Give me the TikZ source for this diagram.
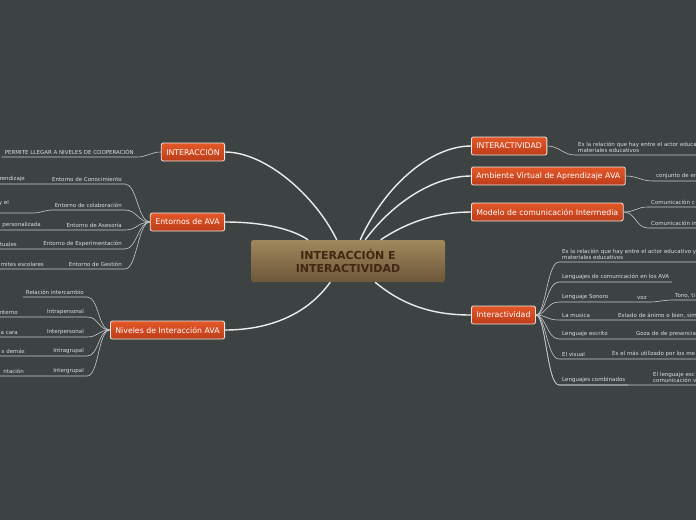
\documentclass[tikz,border=0pt]{standalone}
\usepackage{fontspec}
\setmainfont{DejaVu Sans}
\definecolor{mapbg}{RGB}{61,66,67}
\definecolor{rootTop}{RGB}{160,135,92}
\definecolor{rootBot}{RGB}{108,88,58}
\definecolor{rootText}{RGB}{68,38,20}
\definecolor{topicTop}{RGB}{228,88,40}
\definecolor{topicBot}{RGB}{188,60,26}
\definecolor{topicEdge}{RGB}{238,228,222}
\definecolor{leafText}{RGB}{222,222,222}
\definecolor{branchGray}{RGB}{236,236,236}
\definecolor{twigGray}{RGB}{200,202,202}
\begin{document}
\begin{tikzpicture}[x=1pt,y=-1pt,
  root/.style={rectangle,rounded corners=2.5pt,minimum width=194pt,minimum height=42pt,top color=rootTop,bottom color=rootBot,draw=none,text=rootText,font=\bfseries\fontsize{11}{13}\selectfont,align=center},
  topic/.style={rectangle,rounded corners=2pt,draw=topicEdge,line width=0.8pt,top color=topicTop,bottom color=topicBot,text=white,font=\fontsize{7.8}{9.4}\selectfont,minimum height=18pt,inner xsep=5pt},
  leaf/.style={font=\fontsize{5.5}{6.4}\selectfont,text=leafText,inner xsep=3pt,inner ysep=2pt},
  leafl/.style={leaf,anchor=south east,align=right},
  leafr/.style={leaf,anchor=south west,align=left},
  cut/.style={text width=160pt},
  branch/.style={draw=branchGray,line width=1.4pt},
  twig/.style={draw=twigGray,line width=0.6pt}]
\path[use as bounding box] (0,0) rectangle (696,520);
\path[fill=mapbg] (0,0) rectangle (696,520);
\node[root] (root) at (348,261) {INTERACCIÓN E\\INTERACTIVIDAD};
\node[topic,anchor=east] (interaccion) at (225,152) {INTERACCIÓN};
\node[topic,anchor=east] (entornos) at (225,222) {Entornos de AVA};
\node[topic,anchor=east] (niveles) at (225,330) {Niveles de Interacción AVA};
\node[topic,anchor=west] (interactividad) at (471,146) {INTERACTIVIDAD};
\node[topic,anchor=west] (ambiente) at (471,176) {Ambiente Virtual de Aprendizaje AVA};
\node[topic,anchor=west] (modelo) at (471,212) {Modelo de comunicación Intermedia};
\node[topic,anchor=west] (interact) at (471,315) {Interactividad};
\node[leafl] (cooperacion) at (137,157) {PERMITE LLEGAR A NIVELES DE COOPERACIÓN};
\node[leafl] (conocimiento) at (125,184) {Entorno de Conocimiento};
\node[leafl] (colaboracion) at (125,210) {Entorno de colaboración};
\node[leafl] (asesoria) at (125,230) {Entorno de Asesoría};
\node[leafl] (experimentacion) at (125,249) {Entorno de Experimentación};
\node[leafl] (gestion) at (125,269) {Entorno de Gestión};
\node[leafl] (aprendizaje) at (28,184) {rendizaje};
\node[leafl] (yel) at (34,213) {y el\hspace*{22pt}\\\mbox{}};
\node[leafl] (personalizada) at (44,230) {personalizada};
\node[leafl] (virtuales) at (20,249) {tuales};
\node[leafl] (escolares) at (47,269) {mites escolares};
\node[leafl] (intercambio) at (87,297) {Relación intercambio};
\node[leafl] (intrapersonal) at (87,317) {Intrapersonal};
\node[leafl] (interpersonal) at (87,337) {Interpersonal};
\node[leafl] (intragrupal) at (87,356) {Intragrupal};
\node[leafl] (intergrupal) at (87,376) {Intergrupal};
\node[leafl] (interno) at (21,317) {nterno};
\node[leafl] (acara) at (21,337) {a cara};
\node[leafl] (demas) at (28,356) {s demás};
\node[leafl] (orientacion) at (27,376) {ntación};
\node[leafr,cut] (actor) at (575,155) {Es la relación que hay entre el actor educativo y los\\materiales educativos};
\node[leafr,cut] (conjunto) at (653,181) {conjunto de en};
\node[leafr,cut] (comc) at (648,207) {Comunicación c};
\node[leafr,cut] (comi) at (648,228) {Comunicación in};
\node[leafr,cut] (iactor) at (559,262) {Es la relación que hay entre el actor educativo y los\\materiales educativos};
\node[leafr] (ilenguajes) at (559,282) {Lenguajes de comunicación en los AVA};
\node[leafr] (isonoro) at (559,302) {Lenguaje Sonoro};
\node[leafr] (ivoz) at (634,302) {voz};
\node[leafr,cut] (itono) at (672,300) {Tono, ti};
\node[leafr] (imusica) at (559,320) {La musica};
\node[leafr,cut] (iestado) at (615,320) {Estado de ánimo o bien, sim};
\node[leafr] (iescrito) at (559,339) {Lenguaje escrito};
\node[leafr,cut] (igoza) at (633,339) {Goza de de presencia};
\node[leafr] (ivisual) at (559,359) {El visual};
\node[leafr,cut] (iutilizado) at (609,359) {Es el más utilizado por los me};
\node[leafr] (icombinados) at (559,385) {Lenguajes combinados};
\node[leafr,cut] (iesc) at (650,385) {El lenguaje esc\\comunicación v};
\draw[branch] (root.118) .. controls +(-22,-45) and +(40,0) .. (interaccion.east);
\draw[branch] (root.152) .. controls +(-18,-12) and +(35,0) .. (entornos.east);
\draw[branch] (root.230) .. controls +(-25,35) and +(40,0) .. (niveles.east);
\draw[branch] (root.60) .. controls +(25,-55) and +(-40,0) .. (interactividad.west);
\draw[branch] (root.51) .. controls +(30,-40) and +(-35,0) .. (ambiente.west);
\draw[branch] (root.33) .. controls +(30,-20) and +(-30,0) .. (modelo.west);
\draw[branch] (root.-38) .. controls +(30,25) and +(-35,0) .. (interact.west);
\draw[twig] (interaccion.west) .. controls +(-10,0) and +(10,0) .. (cooperacion.south east) -- (cooperacion.south west);
\foreach \leafname/\childname in {conocimiento/aprendizaje,asesoria/personalizada,experimentacion/virtuales,gestion/escolares}
  \draw[twig] (entornos.west) .. controls +(-12,0) and +(12,0) .. (\leafname.south east) -- (\leafname.south west) -- (\childname.south east) -- (\childname.south west);
\draw[twig] (entornos.west) .. controls +(-12,0) and +(12,0) .. (colaboracion.south east) -- (colaboracion.south west) .. controls +(-5,0) and +(5,0) .. (yel.south east) -- (yel.south west);
\draw[twig] (niveles.west) .. controls +(-12,0) and +(12,0) .. (intercambio.south east) -- (intercambio.south west);
\foreach \leafname/\childname in {intrapersonal/interno,interpersonal/acara,intragrupal/demas,intergrupal/orientacion}
  \draw[twig] (niveles.west) .. controls +(-12,0) and +(12,0) .. (\leafname.south east) -- (\leafname.south west) -- (\childname.south east) -- (\childname.south west);
\draw[twig] (interactividad.east) .. controls +(12,0) and +(-12,0) .. (actor.south west) -- (actor.south east);
\draw[twig] (ambiente.east) .. controls +(12,0) and +(-12,0) .. (conjunto.south west) -- (conjunto.south east);
\draw[twig] (modelo.east) .. controls +(12,0) and +(-12,0) .. (comc.south west) -- (comc.south east);
\draw[twig] (modelo.east) .. controls +(12,0) and +(-12,0) .. (comi.south west) -- (comi.south east);
\foreach \leafname in {iactor,ilenguajes,icombinados}
  \draw[twig] (interact.east) .. controls +(10,0) and +(-12,0) .. (\leafname.south west) -- (\leafname.south east);
\draw[twig] (interact.east) .. controls +(10,0) and +(-12,0) .. (isonoro.south west) -- (isonoro.south east) -- (ivoz.south west) -- (ivoz.south east) .. controls +(8,0) and +(-8,0) .. (itono.south west) -- (itono.south east);
\foreach \leafname/\childname in {imusica/iestado,iescrito/igoza,ivisual/iutilizado,icombinados/iesc}
  \draw[twig] (interact.east) .. controls +(10,0) and +(-12,0) .. (\leafname.south west) -- (\leafname.south east) -- (\childname.south west) -- (\childname.south east);
\end{tikzpicture}
\end{document}
